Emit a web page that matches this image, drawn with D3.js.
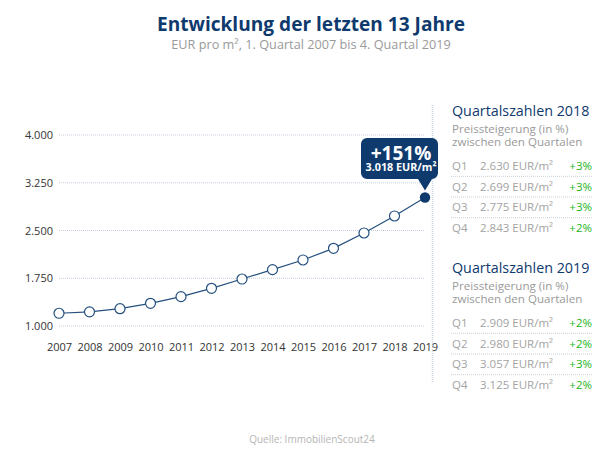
<!DOCTYPE html>
<html><head><meta charset="utf-8">
<script src="https://cdn.jsdelivr.net/npm/d3@7"></script>
<style>
body{margin:0;background:#fff;font-family:"Open Sans",sans-serif;}
svg text{font-family:"Open Sans",sans-serif;}
</style></head><body>
<svg id="c" width="602" height="453"></svg>
<script>
const years = [2007,2008,2009,2010,2011,2012,2013,2014,2015,2016,2017,2018,2019];
const prices = [1200,1222,1272,1356,1461,1592,1738,1885,2037,2220,2461,2728,3018];
const yTicks = [1000,1750,2500,3250,4000];
const growthLabel = "+151%";
const q2018Labels = ["Q1","Q2","Q3","Q4"];
const q2018Values = [2630,2699,2775,2843];
const q2018Growth = ["+3%","+3%","+3%","+2%"];
const q2019Labels = ["Q1","Q2","Q3","Q4"];
const q2019Values = [2909,2980,3057,3125];
const q2019Growth = ["+2%","+2%","+3%","+2%"];

const navy = "#0f3a6e";
const loc = d3.formatLocale({decimal:",",thousands:".",grouping:[3],currency:["","€"]});
const fmt = loc.format(",.0f");

const svg = d3.select("#c");
svg.append("text").attr("x",311).attr("y",31).attr("text-anchor","middle")
  .attr("font-size",19.1).attr("font-weight",700).attr("fill",navy)
  .text("Entwicklung der letzten 13 Jahre");
svg.append("text").attr("x",311).attr("y",49).attr("text-anchor","middle")
  .attr("font-size",12.7).attr("fill","#9a9a9a")
  .text("EUR pro m², 1. Quartal 2007 bis 4. Quartal 2019");

const x = d3.scalePoint().domain(years).range([59,425]);
const y = d3.scaleLinear().domain([1000,4000]).range([326,135]);

// grid
svg.append("g").selectAll("line.grid").data(yTicks).join("line").attr("class","grid")
  .attr("x1",59).attr("x2",425).attr("y1",d=>y(d)).attr("y2",d=>y(d))
  .attr("stroke","#c3cedc").attr("stroke-width",1).attr("stroke-dasharray","1,1");
const yAxis = d3.axisLeft(y).tickValues(yTicks).tickFormat(fmt).tickSize(0).tickPadding(6);
const ya = svg.append("g").attr("transform","translate(59,0)").call(yAxis);
ya.select(".domain").remove();
ya.selectAll("text").attr("font-size",11).attr("fill","#333").attr("font-family","Open Sans");

const xAxis = d3.axisBottom(x).tickSize(0).tickPadding(0).tickFormat(d=>String(d));
const xa = svg.append("g").attr("transform","translate(0,343)").call(xAxis);
xa.select(".domain").remove();
xa.selectAll("text").attr("font-size",11).attr("fill","#333").attr("font-family","Open Sans");

// line
const pts = years.map((yr,i)=>({yr,v:prices[i]}));
svg.append("path").datum(pts).attr("fill","none").attr("stroke","#24507f").attr("stroke-width",1.2)
  .attr("d",d3.line().x(d=>x(d.yr)).y(d=>y(d.v)));
svg.selectAll("circle.pt").data(pts.slice(0,-1)).join("circle").attr("class","pt")
  .attr("cx",d=>x(d.yr)).attr("cy",d=>y(d.v)).attr("r",5)
  .attr("fill","#fff").attr("stroke","#24507f").attr("stroke-width",1.2);
const last = pts[pts.length-1];
svg.append("circle").attr("cx",x(last.yr)).attr("cy",y(last.v)).attr("r",5.2).attr("fill",navy);

// separator
svg.append("line").attr("x1",432.5).attr("x2",432.5).attr("y1",105).attr("y2",383)
  .attr("stroke","#c9d3df").attr("stroke-width",1.5).attr("stroke-dasharray","1,1");

// tooltip
const tx = x(last.yr), ty = y(last.v);
const bx0 = 361, bx1 = 438, by0 = 138, by1 = 179, r = 6;
const tip = d3.path();
tip.moveTo(bx0+r,by0);
tip.lineTo(bx1-r,by0); tip.arcTo(bx1,by0,bx1,by0+r,r);
tip.lineTo(bx1,by1-r); tip.arcTo(bx1,by1,bx1-r,by1,r);
tip.lineTo(tx+7,by1); tip.lineTo(tx,ty-7); tip.lineTo(tx-7,by1);
tip.lineTo(bx0+r,by1); tip.arcTo(bx0,by1,bx0,by1-r,r);
tip.lineTo(bx0,by0+r); tip.arcTo(bx0,by0,bx0+r,by0,r);
tip.closePath();
svg.append("path").attr("d",tip.toString()).attr("fill",navy);
svg.append("text").attr("x",401).attr("y",160).attr("text-anchor","middle")
  .attr("font-size",19).attr("font-weight",700).attr("fill","#fff").text(growthLabel);
svg.append("text").attr("x",401).attr("y",171).attr("text-anchor","middle")
  .attr("font-size",10.8).attr("font-weight",700).attr("fill","#fff").text(fmt(last.v)+" EUR/m²");

// panels
function panel(top, year, labels, vals, growth){
  const p = svg.append("g");
  p.append("text").attr("x",452).attr("y",top+5).attr("font-size",14.3).attr("fill",navy)
    .text("Quartalszahlen "+year);
  p.append("text").attr("x",452).attr("y",top+22).attr("font-size",11.6).attr("fill","#9a9a9a")
    .text("Preissteigerung (in %)");
  p.append("text").attr("x",452).attr("y",top+35).attr("font-size",11.6).attr("fill","#9a9a9a")
    .text("zwischen den Quartalen");
  const rowY = d3.scaleLinear().domain([0,3]).range([top+55,top+117]);
  labels.forEach((l,i)=>{
    const yy = rowY(i)+4;
    p.append("text").attr("x",452).attr("y",yy).attr("font-size",11.5).attr("fill","#a3a3a3").text(l);
    p.append("text").attr("x",480).attr("y",yy).attr("font-size",11.5).attr("fill","#a3a3a3").text(fmt(vals[i])+" EUR/m²");
    p.append("text").attr("x",592).attr("y",yy).attr("text-anchor","end").attr("font-size",11.5).attr("fill","#22b522").text(growth[i]);
    if(i<3){
      const ly = (rowY(i)+rowY(i+1))/2;
      p.append("line").attr("x1",451).attr("x2",593).attr("y1",ly).attr("y2",ly)
        .attr("stroke","#c8d0da").attr("stroke-dasharray","1,1");
    }
  });
}
panel(111,2018,q2018Labels,q2018Values,q2018Growth);
panel(268,2019,q2019Labels,q2019Values,q2019Growth);

svg.append("text").attr("x",312).attr("y",443).attr("text-anchor","middle")
  .attr("font-size",10).attr("fill","#b5b5b5").text("Quelle: ImmobilienScout24");
</script>
</body></html>
